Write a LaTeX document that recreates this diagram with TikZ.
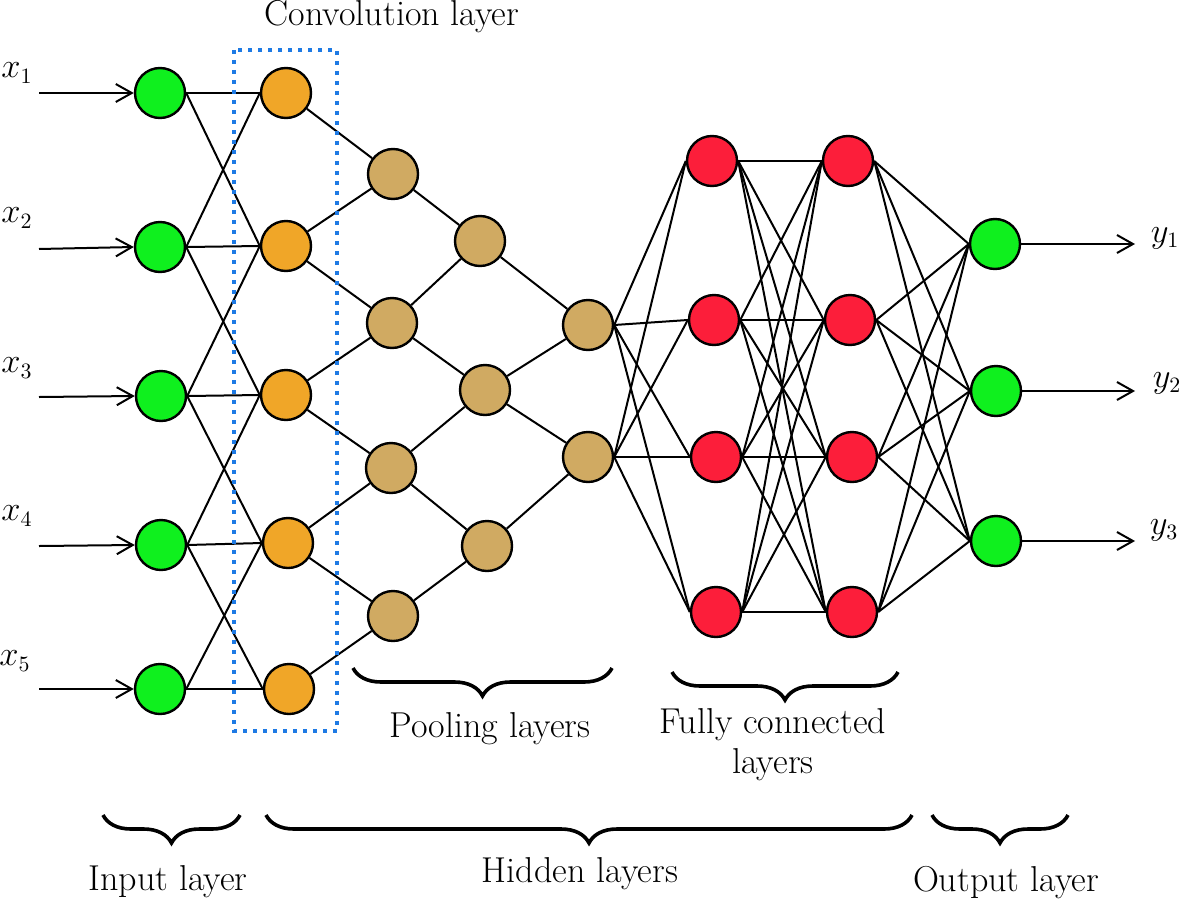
\documentclass[tikz,border=0pt]{standalone}
\usepackage{amsmath}
\usetikzlibrary{arrows,arrows.meta,decorations.pathreplacing}
\usepackage{xcolor}

\definecolor{ingreen}{RGB}{15,240,30}
\definecolor{convorange}{RGB}{240,166,40}
\definecolor{pooltan}{RGB}{208,170,98}
\definecolor{fcred}{RGB}{252,30,58}
\definecolor{boxblue}{RGB}{30,122,228}

\begin{document}
\begin{tikzpicture}[x=0.5pt,y=-0.5pt]
	\tikzset{font=\fontsize{18}{20}\selectfont}
	\tikzset{neuron/.style = {shape=circle,draw,line width=1.2pt,minimum size=25pt,inner sep=0pt}}
	\tikzset{edge/.style = {-,line width=1pt}}
	\tikzset{signal/.style = {-{Straight Barb[length=8pt,width=9pt]},line width=1pt}}
	\tikzset{varlabel/.style = {font=\fontsize{16}{18}\selectfont}}
	\tikzset{brace/.style = {decorate,decoration={brace,mirror,amplitude=14pt},line width=1.8pt}}
	\useasboundingbox (0,0) rectangle (1181,899);
    % input layer
    \node[neuron,fill=ingreen] (i1) at (160,93) {};
    \node[neuron,fill=ingreen] (i2) at (160,247) {};
    \node[neuron,fill=ingreen] (i3) at (161,396) {};
    \node[neuron,fill=ingreen] (i4) at (161,545) {};
    \node[neuron,fill=ingreen] (i5) at (160,689) {};
    % convolution layer
    \node[neuron,fill=convorange] (c1) at (286,93) {};
    \node[neuron,fill=convorange] (c2) at (286,246) {};
    \node[neuron,fill=convorange] (c3) at (286,395) {};
    \node[neuron,fill=convorange] (c4) at (288,543) {};
    \node[neuron,fill=convorange] (c5) at (289,689) {};
    % pooling layers
    \node[neuron,fill=pooltan] (pa1) at (393,174) {};
    \node[neuron,fill=pooltan] (pa2) at (392,323) {};
    \node[neuron,fill=pooltan] (pa3) at (391,468) {};
    \node[neuron,fill=pooltan] (pa4) at (393,616) {};
    \node[neuron,fill=pooltan] (pb1) at (480,241) {};
    \node[neuron,fill=pooltan] (pb2) at (485,390) {};
    \node[neuron,fill=pooltan] (pb3) at (487,546) {};
    \node[neuron,fill=pooltan] (pc1) at (588,325) {};
    \node[neuron,fill=pooltan] (pc2) at (588,457) {};
    % fully connected layers
    \node[neuron,fill=fcred] (fa1) at (712,161) {};
    \node[neuron,fill=fcred] (fa2) at (714,320) {};
    \node[neuron,fill=fcred] (fa3) at (716,457) {};
    \node[neuron,fill=fcred] (fa4) at (716,612) {};
    \node[neuron,fill=fcred] (fb1) at (848,161) {};
    \node[neuron,fill=fcred] (fb2) at (850,320) {};
    \node[neuron,fill=fcred] (fb3) at (852,457) {};
    \node[neuron,fill=fcred] (fb4) at (852,612) {};
    % output layer
    \node[neuron,fill=ingreen] (o1) at (995,244) {};
    \node[neuron,fill=ingreen] (o2) at (996,391) {};
    \node[neuron,fill=ingreen] (o3) at (996,541) {};
    % inputs and outputs
    \node[varlabel] (x1) at (17,73) {$x_1$};
    \node[varlabel] (x2) at (17,218) {$x_2$};
    \node[varlabel] (x3) at (17,368) {$x_3$};
    \node[varlabel] (x4) at (17,516) {$x_4$};
    \node[varlabel] (x5) at (15,661) {$x_5$};
    \node[varlabel] (y1) at (1165,238) {$y_1$};
    \node[varlabel] (y2) at (1167,383) {$y_2$};
    \node[varlabel] (y3) at (1164,530) {$y_3$};
    \foreach \k/\y in {1/93,2/249,3/397,4/546,5/689}
        \coordinate (s\k) at (39,\y);
    \foreach \k/\y in {1/244,2/391,3/541}
        \coordinate (t\k) at (1135,\y);
    %edges
    \foreach \k in {1,...,5}
        \draw[signal] (s\k) to (i\k.west);
    \foreach \k in {1,2,3}
        \draw[signal] (o\k) to (t\k);
    \foreach \k in {1,...,5}
        \draw[edge] (i\k.east) to (c\k.west);
    \foreach \k/\m in {1/2,2/3,3/4,4/5}{
        \draw[edge] (i\k.east) to (c\m.west);
        \draw[edge] (i\m.east) to (c\k.west);
        \draw[edge] (c\k) to (pa\k);}
    \foreach \k/\m in {1/2,2/3,3/4,4/5}
        \draw[edge] (c\m) to (pa\k);
    \foreach \k/\m in {1/2,2/3,3/4}{
        \draw[edge] (pa\k) to (pb\k);
        \draw[edge] (pa\m) to (pb\k);}
    \foreach \k/\m in {1/2,2/3}{
        \draw[edge] (pb\k) to (pc\k);
        \draw[edge] (pb\m) to (pc\k);}
    \foreach \k in {1,2}
        \foreach \m in {1,...,4}
            \draw[edge] (pc\k.east) to (fa\m.west);
    \foreach \k in {1,...,4}
        \foreach \m in {1,...,4}
            \draw[edge] (fa\k.east) to (fb\m.west);
    \foreach \k in {1,...,4}
        \foreach \m in {1,2,3}
            \draw[edge] (fb\k.east) to (o\m.west);
    % convolution box
    \draw[boxblue,line width=2pt,dash pattern=on 2pt off 3pt] (234,50) rectangle (337,731);
    \node[anchor=base] (conv) at (392,26) {Convolution layer};
    % braces
    \draw[brace] (353,668) -- (612,668);
    \draw[brace] (672,672) -- (898,672);
    \draw[brace] (103,815) -- (240,815);
    \draw[brace] (266,815) -- (912,815);
    \draw[brace] (932,815) -- (1068,815);
    \node (pool) at (490,729) {Pooling layers};
    \node[align=center] (full) at (773,745) {Fully connected\\layers};
    \node (inl) at (168,882) {Input layer};
    \node (hid) at (580,874) {Hidden layers};
    \node (outl) at (1006,883) {Output layer};
\end{tikzpicture}
\end{document}
